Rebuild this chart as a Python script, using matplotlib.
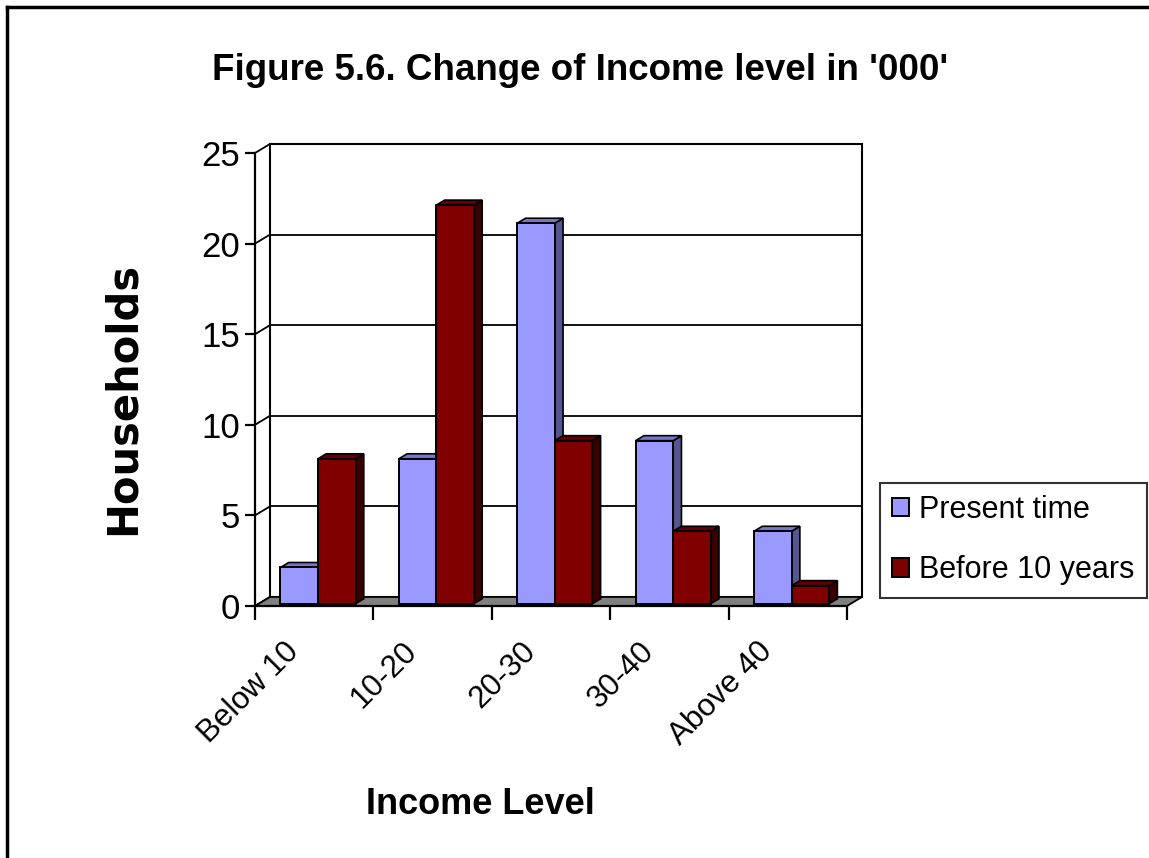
import matplotlib.pyplot as plt
from matplotlib.patches import Polygon, Patch
from matplotlib.lines import Line2D
import numpy as np

# Households by income level ('000)
categories = ['Below 10', '10-20', '20-30', '30-40', 'Above 40']
present_time = [2, 8, 21, 9, 4]
before_10_years = [8, 22, 9, 4, 1]
series_names = ['Present time', 'Before 10 years']
y_ticks = [0, 5, 10, 15, 20, 25]

SANS = ['Liberation Sans', 'DejaVu Sans']

# colours: front face, top face, side face
blue = ('#9999ff', '#7777cc', '#55558f')
red = ('#800000', '#660000', '#3a0000')

# depth of the box (data units) and where the bars sit inside it
DX, DY = 0.127, 0.5
Z_FRONT, Z_BACK = 0.25, 0.8
BAR_W = 0.317
BAR_START = 0.215


def proj(x, y, z):
    return (x + z * DX, y + z * DY)


fig = plt.figure(figsize=(11.49, 8.58), dpi=100)
ax = fig.add_axes([255 / 1149, 1 - 606 / 858, 592 / 1149, 453 / 858])
ax.set_xlim(0, 5)
ax.set_ylim(0, 25)
ax.patch.set_visible(False)
for s in ['top', 'right']:
    ax.spines[s].set_visible(False)
for s in ['left', 'bottom']:
    ax.spines[s].set_linewidth(1.6)
    ax.spines[s].set_zorder(6)

# back wall, its gridlines and the side-wall diagonals
ax.add_patch(Polygon([proj(0, 0, 1), proj(5, 0, 1), proj(5, 25, 1), proj(0, 25, 1)],
                     closed=True, fill=False, ec='black', lw=1.5, clip_on=False, zorder=0.5))
for t in y_ticks:
    (x0, y0), (x1, y1) = proj(0, t, 1), proj(5, t, 1)
    ax.plot([x0, x1], [y0, y1], color='black', lw=1.3, clip_on=False, zorder=0.6)
    ax.plot([0, DX], [t, t + DY], color='black', lw=1.3, clip_on=False, zorder=0.6)

# grey floor
ax.add_patch(Polygon([proj(0, 0, 0), proj(5, 0, 0), proj(5, 0, 1), proj(0, 0, 1)],
                     closed=True, fc='#808080', ec='black', lw=1.3, clip_on=False, zorder=1))

# bars: front faces via ax.bar, tops and sides as polygons
ddx, ddy = (Z_BACK - Z_FRONT) * DX, (Z_BACK - Z_FRONT) * DY
base = Z_FRONT * DY
idx = np.arange(len(categories))
for k, (vals, col) in enumerate([(present_time, blue), (before_10_years, red)]):
    lefts = idx + BAR_START + k * BAR_W
    ax.bar(lefts, vals, width=BAR_W, bottom=base, align='edge', color=col[0],
           edgecolor='black', linewidth=1.4, zorder=4, clip_on=False)
    for i, (x0, v) in enumerate(zip(lefts, vals)):
        top = base + v
        x1 = x0 + BAR_W
        zo = 2 + i * 0.1 + k * 0.05
        ax.add_patch(Polygon([(x1, base), (x1, top), (x1 + ddx, top + ddy), (x1 + ddx, base + ddy)],
                             closed=True, fc=col[2], ec='black', lw=1.2, zorder=zo, clip_on=False))
        ax.add_patch(Polygon([(x0, top), (x1, top), (x1 + ddx, top + ddy), (x0 + ddx, top + ddy)],
                             closed=True, fc=col[1], ec='black', lw=1.2, zorder=zo, clip_on=False))

# axes ticks
ax.set_yticks(y_ticks)
ax.set_yticklabels([str(t) for t in y_ticks], family=SANS, fontsize=25)
ax.set_xticks(np.arange(6))
ax.set_xticklabels([])
ax.set_xticks(idx + 0.5 - 0.08, minor=True)
ax.set_xticklabels(categories, minor=True, rotation=45, ha='right', va='top',
                   family=SANS, fontsize=22.5)
ax.tick_params(axis='y', direction='out', length=7, width=1.6, pad=4)
ax.tick_params(axis='x', which='major', direction='out', length=10, width=1.6)
ax.tick_params(axis='x', which='minor', length=0, pad=22)

# titles
fig.text(580 / 1149, 1 - 70 / 858, "Figure 5.6. Change of Income level in '000'",
         ha='center', va='center', family=SANS, fontweight='bold', fontsize=26.5)
fig.text(480 / 1149, 1 - 805 / 858, 'Income Level', ha='center', va='center',
         family=SANS, fontweight='bold', fontsize=26)
fig.text(123 / 1149, 1 - 398 / 858, 'Households', ha='center', va='center', rotation=90,
         family='DejaVu Sans', fontweight='bold', fontsize=30)

# legend
handles = [Patch(facecolor=blue[0], edgecolor='black', linewidth=1.4),
           Patch(facecolor=red[0], edgecolor='black', linewidth=1.4)]
leg = fig.legend(handles, series_names, loc='center left',
                 bbox_to_anchor=(880 / 1149, 1 - 540 / 858),
                 prop={'family': SANS, 'size': 22}, frameon=True, fancybox=False,
                 handlelength=0.55, handleheight=0.55, handletextpad=0.33,
                 borderpad=0.4, labelspacing=1.0, borderaxespad=0)
leg.get_frame().set_edgecolor('black')
leg.get_frame().set_linewidth(1.5)

# outer frame (top and left edges)
fig.add_artist(Line2D([7 / 1149, 1], [1 - 7 / 858, 1 - 7 / 858], color='black', lw=2.5,
                      transform=fig.transFigure))
fig.add_artist(Line2D([7 / 1149, 7 / 1149], [0, 1 - 7 / 858], color='black', lw=2.5,
                      transform=fig.transFigure))

fig.savefig('out.png', dpi=100)
